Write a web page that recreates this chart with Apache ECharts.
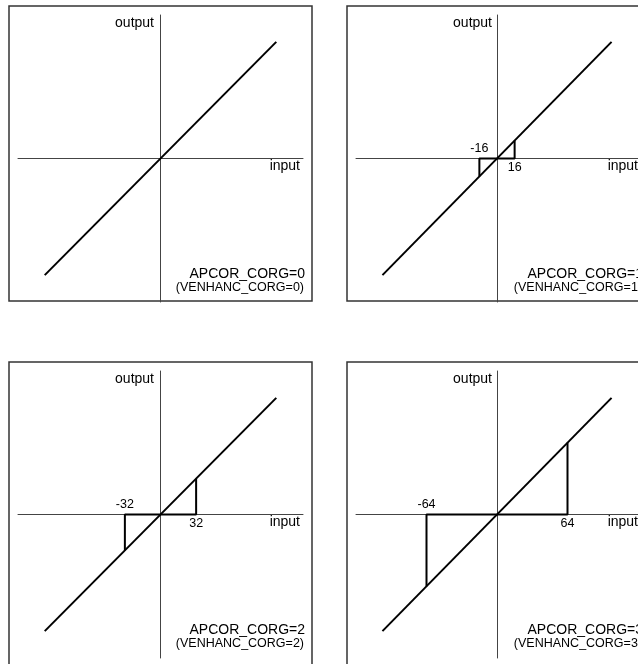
<!DOCTYPE html>
<html>
<head>
<meta charset="utf-8">
<script src="https://cdn.jsdelivr.net/npm/echarts@6/dist/echarts.min.js"></script>
<style>
  html, body { margin: 0; padding: 0; background: #fff; }
  #chart { width: 638px; height: 664px; }
</style>
</head>
<body>
<div id="chart"></div>
<script>
// one panel per APCOR_CORG setting
const corgValues = [0, 1, 2, 3];
const thresholds = [0, 16, 32, 64];   // dead zone half width per panel
const lineEnd = 104;                  // where the identity line stops
const axisRange = [-128, 128];

const FONT = "'Liberation Sans', Arial, sans-serif";

// panel offsets (2 x 2 layout)
const panelPos = [
  { ox: 0, oy: 0 },
  { ox: 338, oy: 0 },
  { ox: 0, oy: 356 },
  { ox: 338, oy: 356 },
];

const grids = [], xAxes = [], yAxes = [], series = [], graphics = [];

corgValues.forEach((corg, i) => {
  const { ox, oy } = panelPos[i];
  const t = thresholds[i];

  grids.push({ left: 18 + ox, top: 15 + oy, width: 285, height: 287 });

  const axisCommon = {
    type: "value",
    gridIndex: i,
    min: axisRange[0],
    max: axisRange[1],
    axisLine: { onZero: true, lineStyle: { color: "#444", width: 1 } },
    axisTick: { show: false },
    axisLabel: { show: false },
    splitLine: { show: false },
  };
  xAxes.push({ ...axisCommon });
  yAxes.push({ ...axisCommon });

  // identity line (output = input)
  series.push({
    type: "line",
    xAxisIndex: i,
    yAxisIndex: i,
    data: [[-lineEnd, -lineEnd], [lineEnd, lineEnd]],
    symbol: "none",
    lineStyle: { color: "#000", width: 2 },
    z: 3,
  });

  if (t > 0) {
    // coring zone outline: down/up to the line at +-t, flat at 0 in between
    series.push({
      type: "line",
      xAxisIndex: i,
      yAxisIndex: i,
      data: [[-t, -t], [-t, 0], [t, 0], [t, t]],
      symbol: "none",
      lineStyle: { color: "#000", width: 2 },
      z: 3,
    });
    // threshold labels
    series.push({
      type: "scatter",
      xAxisIndex: i,
      yAxisIndex: i,
      symbolSize: 0,
      itemStyle: { opacity: 1 },
      data: [
        { value: [-t, 0], label: { position: "top" } },
        { value: [t, 0], label: { position: "bottom" } },
      ],
      label: {
        show: true,
        distance: 3,
        fontFamily: FONT,
        fontSize: 12.5,
        color: "#000",
        formatter: (p) => String(p.value[0]),
      },
      silent: true,
      z: 4,
    });
  }

  // panel frame
  graphics.push({
    type: "rect",
    shape: { x: 9 + ox, y: 6 + oy, width: 303, height: oy ? 320 : 295 },
    style: { fill: null, stroke: "#333", lineWidth: 1.5 },
    silent: true,
  });

  const texts = [
    { text: "output", x: 154, y: 23, size: 14 },
    { text: "input", x: 300, y: 166, size: 14 },
    { text: "APCOR_CORG=" + corg, x: 305, y: 274, size: 14 },
    { text: "(VENHANC_CORG=" + corg + ")", x: 304, y: 287.5, size: 12.5 },
  ];
  texts.forEach((tx) => {
    graphics.push({
      type: "text",
      x: tx.x + ox,
      y: tx.y + oy,
      style: {
        text: tx.text,
        fill: "#000",
        font: tx.size + "px " + FONT,
        align: "right",
        verticalAlign: "middle",
      },
      silent: true,
    });
  });
});

const myChart = echarts.init(document.getElementById("chart"), null, { renderer: "canvas" });
myChart.setOption({
  animation: false,
  backgroundColor: "#fff",
  grid: grids,
  xAxis: xAxes,
  yAxis: yAxes,
  series: series,
  graphic: graphics,
});
</script>
</body>
</html>
